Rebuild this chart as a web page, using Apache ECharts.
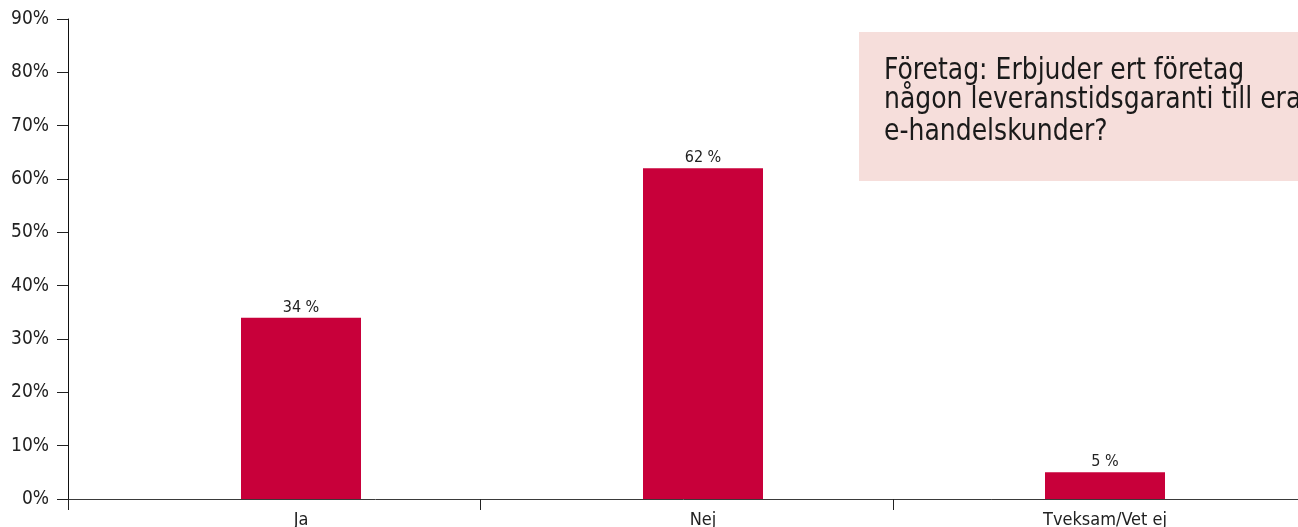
<!DOCTYPE html>
<html>
<head>
<meta charset="utf-8">
<title>Leveranstidsgaranti</title>
<script src="https://cdn.jsdelivr.net/npm/echarts@6/dist/echarts.min.js"></script>
<style>
  html, body { margin: 0; padding: 0; background: #ffffff; }
  #chart { width: 1298px; height: 527px; }
</style>
</head>
<body>
<div id="chart"></div>
<script>
// Survey answers (percent of companies)
const categories = ['Ja', 'Nej', 'Tveksam/Vet ej'];
const shares = [34, 62, 5];
const yTickLabels = ['0%', '10%', '20%', '30%', '40%', '50%', '60%', '70%', '80%', '90%'];
const questionLines = [
  'Företag: Erbjuder ert företag',
  'någon leveranstidsgaranti till era',
  'e-handelskunder?'
];

const axisFont = '"DejaVu Sans Condensed", "DejaVu Sans", sans-serif';
const barColor = '#c8003a';

const chart = echarts.init(document.getElementById('chart'), null, { renderer: 'canvas' });

// question box text, one element per line (condensed horizontally)
const lineTops = [55, 84, 116];
const questionText = questionLines.map(function (line, i) {
  return {
    type: 'text',
    x: 884,
    y: lineTops[i],
    scaleX: 0.9,
    style: {
      text: line,
      fill: '#1a1a1a',
      font: '31px ' + axisFont
    },
    silent: true
  };
});

chart.setOption({
  animation: false,
  backgroundColor: '#ffffff',
  grid: [
    // frame: value axis and category separators
    { left: 68, width: 1238, top: 19, bottom: 28, outerBoundsMode: 'none', containLabel: false },
    // bars and category names
    { left: 100, width: 1206, top: 19, bottom: 28, outerBoundsMode: 'none', containLabel: false }
  ],
  xAxis: [
    {
      gridIndex: 0,
      type: 'category',
      data: categories,
      boundaryGap: true,
      axisLine: { show: true, lineStyle: { color: '#3a3a3a', width: 1 } },
      axisTick: { show: true, inside: false, length: 11, lineStyle: { color: '#222' } },
      axisLabel: { show: false },
      splitLine: { show: false }
    },
    {
      gridIndex: 1,
      type: 'category',
      data: categories,
      axisLine: { show: false },
      axisTick: { show: false },
      axisLabel: {
        show: true,
        margin: 12,
        color: '#222',
        fontFamily: axisFont,
        fontSize: 18
      },
      splitLine: { show: false }
    }
  ],
  yAxis: [
    {
      gridIndex: 0,
      type: 'value',
      min: 0,
      max: 90,
      interval: 10,
      axisLine: { show: true, lineStyle: { color: '#111', width: 1 } },
      axisTick: { show: true, inside: false, length: 11, lineStyle: { color: '#222' } },
      axisLabel: {
        margin: 19,
        color: '#222',
        fontFamily: axisFont,
        fontSize: 19,
        formatter: function (v) { return yTickLabels[Math.round(v / 10)]; }
      },
      splitLine: { show: false }
    },
    {
      gridIndex: 1,
      type: 'value',
      min: 0,
      max: 90,
      interval: 10,
      show: false,
      splitLine: { show: false }
    }
  ],
  series: [
    {
      type: 'bar',
      xAxisIndex: 1,
      yAxisIndex: 1,
      data: shares,
      barWidth: 120,
      itemStyle: { color: barColor },
      label: {
        show: true,
        position: 'top',
        distance: 2,
        color: '#222',
        fontFamily: axisFont,
        fontSize: 16,
        formatter: '{c} %'
      }
    }
  ],
  graphic: [
    {
      type: 'rect',
      shape: { x: 859, y: 32, width: 460, height: 149 },
      style: { fill: '#f6dedb' },
      silent: true
    }
  ].concat(questionText)
});
</script>
</body>
</html>
